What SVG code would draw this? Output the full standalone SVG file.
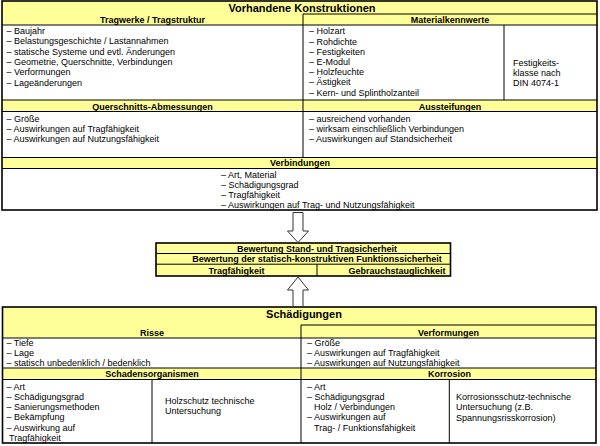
<svg xmlns="http://www.w3.org/2000/svg" width="600" height="446" viewBox="0 0 600 446">
<style>
text{font-family:"Liberation Sans",Arial,sans-serif;fill:#000}
.t{font-size:11px;font-weight:bold;text-anchor:middle}
.h{font-size:9px;font-weight:bold;text-anchor:middle}
.i{font-size:9px}
.y{fill:#FFFF99;stroke:none}
.o{fill:none;stroke:#000;stroke-width:1.6}
.l{stroke:#000;stroke-width:1;fill:none}
.a{fill:#fff;stroke:#333;stroke-width:1}
</style>
<rect width="600" height="446" fill="#fff"/>

<g id="vorhandene-konstruktionen">
<rect class="y" x="2" y="1" width="595" height="24"/>
<rect class="y" x="2" y="100" width="595" height="11.5"/>
<rect class="y" x="2" y="157.5" width="595" height="11"/>
<line class="l" x1="303" y1="14" x2="597" y2="14"/>
<line class="l" x1="2" y1="25" x2="597" y2="25"/>
<line class="l" x1="303" y1="14" x2="303" y2="157.5"/>
<line class="l" x1="504" y1="25" x2="504" y2="100"/>
<line class="l" x1="2" y1="100" x2="597" y2="100"/>
<line class="l" x1="2" y1="111.5" x2="597" y2="111.5"/>
<line class="l" x1="2" y1="157.5" x2="597" y2="157.5"/>
<line class="l" x1="2" y1="168.5" x2="597" y2="168.5"/>
<rect class="o" x="2" y="1" width="595" height="209"/>
<text class="t" x="302" y="11.5">Vorhandene Konstruktionen</text>
<text class="h" x="152.5" y="23">Tragwerke / Tragstruktur</text>
<text class="h" x="450" y="23">Materialkennwerte</text>
<text class="i" x="6.5" y="34">– Baujahr</text>
<text class="i" x="6.5" y="44.3">– Belastungsgeschichte / Lastannahmen</text>
<text class="i" x="6.5" y="54.6">– statische Systeme und evtl. Änderungen</text>
<text class="i" x="6.5" y="64.9">– Geometrie, Querschnitte, Verbindungen</text>
<text class="i" x="6.5" y="75.2">– Verformungen</text>
<text class="i" x="6.5" y="85.5">– Lageänderungen</text>
<text class="i" x="309" y="34.3">– Holzart</text>
<text class="i" x="309" y="44.5">– Rohdichte</text>
<text class="i" x="309" y="54.7">– Festigkeiten</text>
<text class="i" x="309" y="64.9">– E-Modul</text>
<text class="i" x="309" y="75.1">– Holzfeuchte</text>
<text class="i" x="309" y="85.3">– Ästigkeit</text>
<text class="i" x="309" y="95.5">– Kern- und Splintholzanteil</text>
<text class="i" x="513" y="66">Festigkeits-</text>
<text class="i" x="513" y="76">klasse nach</text>
<text class="i" x="513" y="86">DIN 4074-1</text>
<text class="h" x="152.5" y="109.5">Querschnitts-Abmessungen</text>
<text class="h" x="450" y="109.5">Aussteifungen</text>
<text class="i" x="6.5" y="122.3">– Größe</text>
<text class="i" x="6.5" y="132.3">– Auswirkungen auf Tragfähigkeit</text>
<text class="i" x="6.5" y="142.3">– Auswirkungen auf Nutzungsfähigkeit</text>
<text class="i" x="309" y="122.3">– ausreichend vorhanden</text>
<text class="i" x="309" y="132.3">– wirksam einschließlich Verbindungen</text>
<text class="i" x="309" y="142.3">– Auswirkungen auf Standsicherheit</text>
<text class="h" x="300" y="166.3">Verbindungen</text>
<text class="i" x="221" y="178.3">– Art, Material</text>
<text class="i" x="221" y="188.3">– Schädigungsgrad</text>
<text class="i" x="221" y="198.3">– Tragfähigkeit</text>
<text class="i" x="221" y="208.3">– Auswirkungen auf Trag- und Nutzungsfähigkeit</text>
</g>

<g id="bewertung">
<rect class="y" x="156" y="243" width="294.5" height="33"/>
<line class="l" x1="156" y1="253.5" x2="450.5" y2="253.5"/>
<line class="l" x1="156" y1="264.2" x2="450.5" y2="264.2"/>
<line class="l" x1="317" y1="264.2" x2="317" y2="276"/>
<rect class="o" x="156" y="243" width="294.5" height="33"/>
<text class="h" x="317" y="251.8">Bewertung Stand- und Tragsicherheit</text>
<text class="h" x="317" y="262.4">Bewertung der statisch-konstruktiven Funktionssicherheit</text>
<text class="h" x="236.5" y="273.8">Tragfähigkeit</text>
<text class="h" x="397" y="273.8">Gebrauchstauglichkeit</text>
</g>

<g id="schaedigungen">
<rect class="y" x="2.5" y="307" width="593.5" height="31"/>
<rect class="y" x="2.5" y="368" width="593.5" height="11.5"/>
<line class="l" x1="301" y1="325" x2="596" y2="325"/>
<line class="l" x1="301" y1="325" x2="301" y2="443"/>
<line class="l" x1="2.5" y1="338" x2="596" y2="338"/>
<line class="l" x1="2.5" y1="368" x2="596" y2="368"/>
<line class="l" x1="2.5" y1="379.5" x2="596" y2="379.5"/>
<line class="l" x1="152" y1="379.5" x2="152" y2="443"/>
<line class="l" x1="449.3" y1="379.5" x2="449.3" y2="443"/>
<rect class="o" x="2.5" y="307" width="593.5" height="136"/>
<text class="t" x="304" y="318">Schädigungen</text>
<text class="h" x="152" y="335.5">Risse</text>
<text class="h" x="448.5" y="335.5">Verformungen</text>
<text class="i" x="6.5" y="346.3">– Tiefe</text>
<text class="i" x="6.5" y="356.3">– Lage</text>
<text class="i" x="6.5" y="366.3">– statisch unbedenklich / bedenklich</text>
<text class="i" x="307" y="345.5">– Größe</text>
<text class="i" x="307" y="355.5">– Auswirkungen auf Tragfähigkeit</text>
<text class="i" x="307" y="365.5">– Auswirkungen auf Nutzungsfähigkeit</text>
<text class="h" x="152" y="377.2">Schadensorganismen</text>
<text class="h" x="449.5" y="377.2">Korrosion</text>
<text class="i" x="6.5" y="389.5">– Art</text>
<text class="i" x="6.5" y="399.8">– Schädigungsgrad</text>
<text class="i" x="6.5" y="410.1">– Sanierungsmethoden</text>
<text class="i" x="6.5" y="420.4">– Bekämpfung</text>
<text class="i" x="6.5" y="430.7">– Auswirkung auf</text>
<text class="i" x="9" y="441">Tragfähigkeit</text>
<text class="i" x="165" y="403.5">Holzschutz technische</text>
<text class="i" x="165" y="413.8">Untersuchung</text>
<text class="i" x="307" y="389.5">– Art</text>
<text class="i" x="307" y="399.8">– Schädigungsgrad</text>
<text class="i" x="314" y="410.1">Holz / Verbindungen</text>
<text class="i" x="307" y="420.4">– Auswirkungen auf</text>
<text class="i" x="314" y="430.7">Trag- / Funktionsfähigkeit</text>
<text class="i" x="456" y="400">Korrosionsschutz-technische</text>
<text class="i" x="456" y="410.3">Untersuchung (z.B.</text>
<text class="i" x="456" y="420.6">Spannungsrisskorrosion)</text>
</g>

<g id="connectors">
<polygon class="a" points="293,212.5 303,212.5 303,231 308.5,231 298,242.5 287.5,231 293,231"/>
<polygon class="a" points="298,277 308.5,290 303,290 303,306.5 293,306.5 293,290 287.5,290"/>
</g>
</svg>
